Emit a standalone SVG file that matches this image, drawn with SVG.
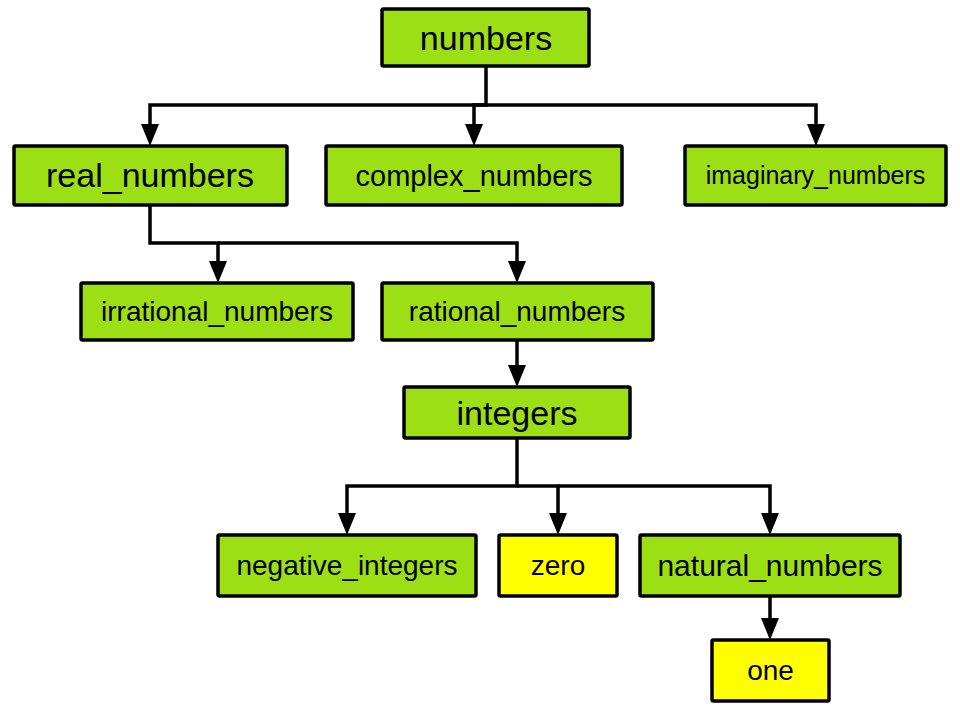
<svg xmlns="http://www.w3.org/2000/svg" width="960" height="720" viewBox="0 0 960 720">
<defs>
<marker id="arr" viewBox="0 0 22 18" refX="0" refY="9" markerWidth="22" markerHeight="18" markerUnits="userSpaceOnUse" orient="auto">
<path d="M0,0 L22,9 L0,18 z" fill="#000"/>
</marker>
<style>
.box{stroke:#000;stroke-width:3.5;}
.g{fill:#9bdf14;}
.y{fill:#ffff00;}
text{font-family:"Liberation Sans",Arial,sans-serif;fill:#000;text-anchor:middle;}
.e{fill:none;stroke:#000;stroke-width:3.5;stroke-linejoin:miter;}
</style>
</defs>
<rect width="960" height="720" fill="#fff"/>
<g id="connectors">
<path class="e" d="M486,67 V105 H150 V124" marker-end="url(#arr)"/>
<path class="e" d="M486,105 H474 V124" marker-end="url(#arr)"/>
<path class="e" d="M486,105 H816 V124" marker-end="url(#arr)"/>
<path class="e" d="M150,205 V243 H218 V261" marker-end="url(#arr)"/>
<path class="e" d="M218,243 H517 V261" marker-end="url(#arr)"/>
<path class="e" d="M517,340 V365" marker-end="url(#arr)"/>
<path class="e" d="M517,438 V486 H347 V513" marker-end="url(#arr)"/>
<path class="e" d="M517,486 H558 V513" marker-end="url(#arr)"/>
<path class="e" d="M558,486 H770 V513" marker-end="url(#arr)"/>
<path class="e" d="M770,596 V618" marker-end="url(#arr)"/>
</g>
<g id="numbers"><rect class="box g" x="382" y="9" width="207" height="57" rx="1.5"/><text x="486" y="49.5" font-size="34">numbers</text></g>
<g id="real_numbers"><rect class="box g" x="14" y="146" width="273" height="59" rx="1.5"/><text x="150" y="187" font-size="34">real_numbers</text></g>
<g id="complex_numbers"><rect class="box g" x="326" y="146" width="296" height="59" rx="1.5"/><text x="474" y="186" font-size="29">complex_numbers</text></g>
<g id="imaginary_numbers"><rect class="box g" x="685" y="146" width="261" height="59" rx="1.5"/><text x="815.5" y="184.3" font-size="25">imaginary_numbers</text></g>
<g id="irrational_numbers"><rect class="box g" x="81" y="283" width="272" height="57" rx="1.5"/><text x="217" y="321.3" font-size="28">irrational_numbers</text></g>
<g id="rational_numbers"><rect class="box g" x="382" y="283" width="271" height="57" rx="1.5"/><text x="517" y="321.3" font-size="28">rational_numbers</text></g>
<g id="integers"><rect class="box g" x="404" y="387" width="226" height="51" rx="1.5"/><text x="517" y="424.5" font-size="34">integers</text></g>
<g id="negative_integers"><rect class="box g" x="218" y="535" width="258" height="61" rx="1.5"/><text x="347" y="575.3" font-size="28">negative_integers</text></g>
<g id="zero"><rect class="box y" x="499" y="535" width="118" height="61" rx="1.5"/><text x="558" y="575.3" font-size="28">zero</text></g>
<g id="natural_numbers"><rect class="box g" x="640" y="535" width="260" height="61" rx="1.5"/><text x="770" y="576" font-size="30">natural_numbers</text></g>
<g id="one"><rect class="box y" x="712" y="640" width="117" height="61" rx="1.5"/><text x="770.5" y="680.3" font-size="28">one</text></g>
</svg>
